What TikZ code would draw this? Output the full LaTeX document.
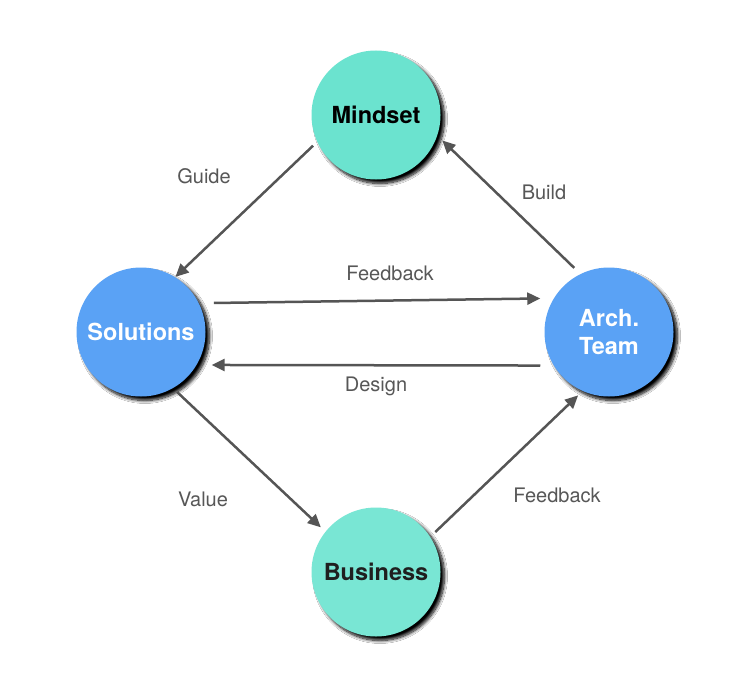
\documentclass[tikz,border=0pt]{standalone}
\usepackage{fontspec}
\setmainfont{TeX Gyre Heros}
\usetikzlibrary{arrows.meta,calc,shadows.blur}
\definecolor{teal1}{HTML}{6BE3CF}
\definecolor{teal2}{HTML}{79E6D4}
\definecolor{blue1}{HTML}{5AA2F5}
\definecolor{arrgray}{HTML}{555555}
\definecolor{labgray}{HTML}{575757}
\tikzset{
  bubble/.style={circle, minimum size=129pt, inner sep=0pt,
    blur shadow={shadow xshift=4pt, shadow yshift=-4pt, shadow blur radius=3pt, shadow opacity=100, shadow blur steps=10},
    font=\fontsize{23.5}{28}\selectfont\bfseries, align=center},
  arr/.style={draw=arrgray, line width=2.5pt, -{Triangle[length=13pt,width=12pt]}},
  lab/.style={text=labgray, font=\fontsize{20}{24}\selectfont}
}
\begin{document}
\begin{tikzpicture}[x=1pt,y=-1pt]
\useasboundingbox[fill=white] (0,0) rectangle (741,698);
\node[bubble, fill=teal1, text=black] (mind) at (376,115) {Mindset};
\node[bubble, fill=blue1, text=white] (sol) at (141,332) {Solutions};
\node[bubble, fill=blue1, text=white] (arch) at (609,332) {Arch.\\Team};
\node[bubble, fill=teal2, text=black!88] (bus) at (376,572) {Business};

\draw[arr] ($(mind.center)+(206:70pt)$) -- ($(sol.center)+(58:65pt)$);
\draw[arr] ($(arch.center)+(118.5:73pt)$) -- ($(mind.center)+(339:71pt)$);
\draw[arr] ($(sol.center)+(21.7:78.5pt)$) -- ($(arch.center)+(154:76.5pt)$);
\draw[arr] ($(arch.center)+(206:76.5pt)$) -- ($(sol.center)+(335:78pt)$);
\draw[arr] ($(sol.center)+(301:70pt)$) -- ($(bus.center)+(141:71pt)$);
\draw[arr] ($(bus.center)+(34:71.5pt)$) -- ($(arch.center)+(244:70.5pt)$);

\node[lab] (lguide) at (204,176) {Guide};
\node[lab] (lbuild) at (544,192) {Build};
\node[lab] (lfeed1) at (390,273) {Feedback};
\node[lab] (ldesign) at (376,386) {Design};
\node[lab] (lvalue) at (203,499) {Value};
\node[lab] (lfeed2) at (557,495) {Feedback};
\end{tikzpicture}
\end{document}
